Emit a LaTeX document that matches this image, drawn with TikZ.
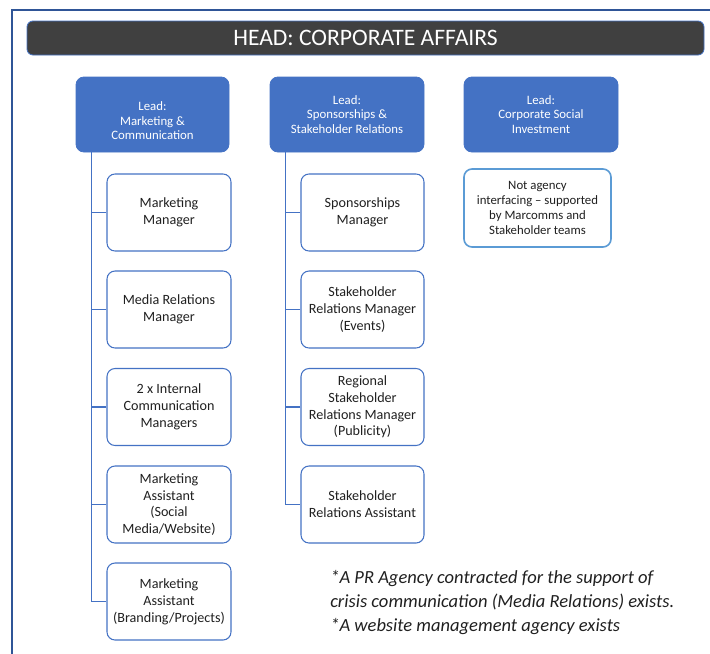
\documentclass[tikz,border=0pt]{standalone}
\usepackage{fontspec}
\setmainfont{Carlito}
\usetikzlibrary{calc}
\definecolor{leadblue}{HTML}{4472C4}
\definecolor{frameblue}{HTML}{2F5597}
\definecolor{noteblue}{HTML}{5B9BD5}
\definecolor{headgrey}{HTML}{404040}
\definecolor{txt}{HTML}{202020}
\begin{document}
\begin{tikzpicture}[x=0.75pt,y=-0.75pt,
  headbox/.style={draw=leadblue, line width=0.6pt, fill=headgrey, rounded corners=4.5pt,
    minimum width=507.75pt, minimum height=25.5pt, text=white, font=\fontsize{17.7}{20}\selectfont, inner sep=0pt},
  leadbox/.style={draw=leadblue, fill=leadblue, rounded corners=6pt, line width=0.6pt,
    minimum height=56.25pt, text=white, align=center, inner sep=0pt,
    font=\fontsize{9.6}{11}\selectfont},
  childbox/.style={draw=leadblue, fill=white, rounded corners=6pt, line width=0.8pt,
    minimum height=57.75pt, text=txt, align=center, inner sep=0pt,
    font=\fontsize{10.6}{12.6}\selectfont},
  notebox/.style={draw=noteblue, fill=white, rounded corners=6pt, line width=1.2pt,
    minimum width=110.25pt, minimum height=58.5pt, text=txt, align=center, inner sep=0pt,
    font=\fontsize{9.6}{11.4}\selectfont},
  conn/.style={draw=leadblue, line width=0.9pt}
]
\useasboundingbox (0,0) rectangle (710,653);
% outer frame
\coordinate (ftl) at (12,10);
\coordinate (ftr) at (712,10);
\coordinate (fbl) at (12,655);
\draw[frameblue, line width=1.9pt] (ftr) -- (ftl) -- (fbl);

\node[headbox] (head) at (365.5,38) {HEAD: CORPORATE AFFAIRS};

\node[leadbox, minimum width=114.75pt] (lead1) at (152.5,114.5) {\rule{0pt}{16pt}Lead:\\Marketing \&\\Communication};
\node[leadbox, minimum width=115.5pt] (lead2) at (347,114.5) {Lead:\\Sponsorships \&\\Stakeholder Relations};
\node[leadbox, minimum width=115.5pt] (lead3) at (541,114.5) {Lead:\\Corporate Social\\Investment};

\node[childbox, minimum width=93pt] (m1) at (169,212.5) {Marketing\\Manager};
\node[childbox, minimum width=93pt] (m2) at (169,309.5) {Media Relations\\Manager};
\node[childbox, minimum width=93pt] (m3) at (169,407) {2 x Internal\\Communication\\Managers};
\node[childbox, minimum width=93pt] (m4) at (169,504.5) {Marketing\\Assistant\\(Social\\Media/Website)};
\node[childbox, minimum width=93pt] (m5) at (169,601.5) {Marketing\\Assistant\\(Branding/Projects)};

\node[childbox, minimum width=92.25pt] (s1) at (362.5,212.5) {Sponsorships\\Manager};
\node[childbox, minimum width=92.25pt] (s2) at (362.5,309.5) {Stakeholder\\Relations Manager\\(Events)};
\node[childbox, minimum width=92.25pt] (s3) at (362.5,407) {Regional\\Stakeholder\\Relations Manager\\(Publicity)};
\node[childbox, minimum width=92.25pt] (s4) at (362.5,504.5) {Stakeholder\\Relations Assistant};

\node[notebox] (note) at (537.5,208) {Not agency\\interfacing -- supported\\by Marcomms and\\Stakeholder teams};

% connectors
\coordinate (t1) at ([xshift=12pt]lead1.south west);
\coordinate (t2) at ([xshift=12pt]lead2.south west);
\draw[conn] (t1) |- (m5.west);
\foreach \c in {m1,m2,m3,m4} \draw[conn] (\c.west) -- (\c.west -| t1);
\draw[conn] (t2) |- (s4.west);
\foreach \c in {s1,s2,s3} \draw[conn] (\c.west) -- (\c.west -| t2);

\node[anchor=north west, align=left, text=txt, inner sep=0pt,
  font=\itshape\fontsize{13.9}{18.2}\selectfont] (foot) at (330,570)
  {*A PR Agency contracted for the support of\\crisis communication (Media Relations) exists.\\*A website management agency exists};
\end{tikzpicture}
\end{document}
